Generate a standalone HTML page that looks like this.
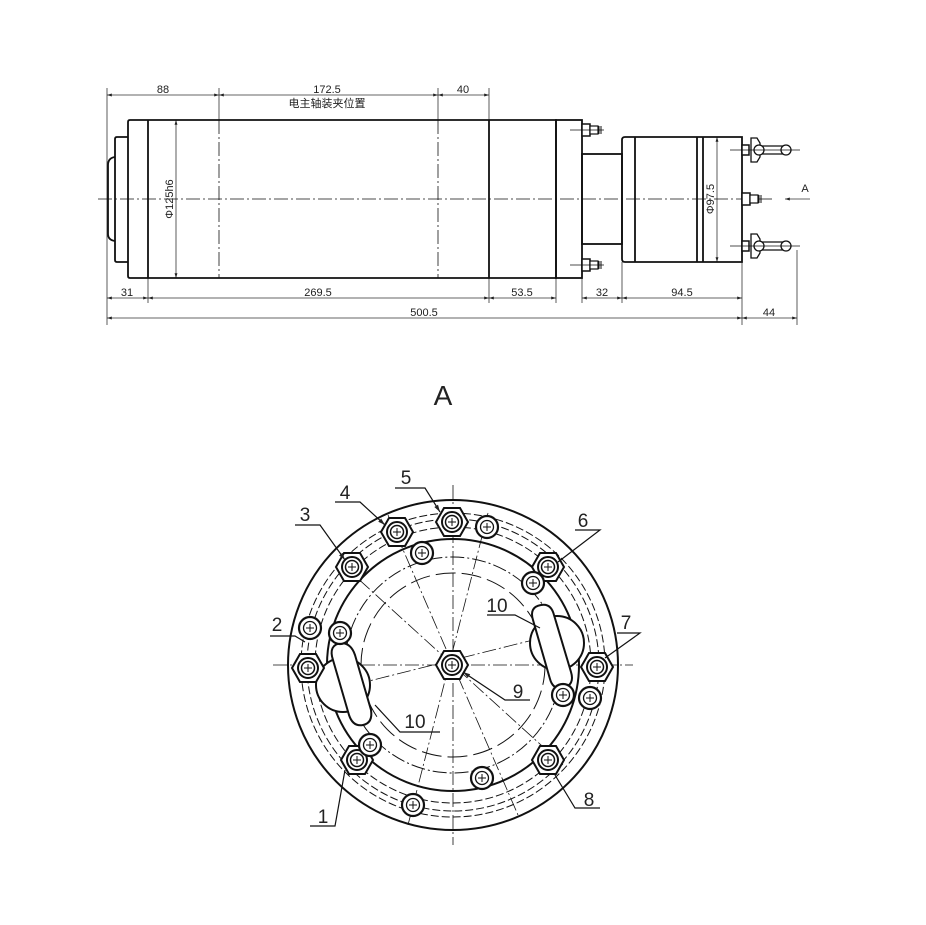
<!DOCTYPE html>
<html><head><meta charset="utf-8"><style>
html,body{margin:0;padding:0;background:#fff}
svg{display:block}
text{font-family:"Liberation Sans","Noto Sans CJK SC",sans-serif;fill:#222}
</style></head><body>
<svg width="926" height="925" viewBox="0 0 926 925" xmlns="http://www.w3.org/2000/svg">
<defs>
<marker id="ar" viewBox="0 0 10 10" refX="10" refY="5" markerWidth="8" markerHeight="6" orient="auto-start-reverse"><path d="M0,2 L10,5 L0,8z" fill="#222"/></marker>
<g id="hex"><polygon points="-16,0 -8,-14 8,-14 16,0 8,14 -8,14" fill="#fff" stroke="#111" stroke-width="2"/><circle r="10" fill="none" stroke="#111" stroke-width="2"/><circle r="6.5" fill="none" stroke="#111" stroke-width="1.5"/><path d="M-4,0H4M0,-4V4" stroke="#111"/></g>
<g id="sc"><circle r="11" fill="#fff" stroke="#111" stroke-width="2.2"/><circle r="6.5" fill="none" stroke="#111" stroke-width="1.3"/><path d="M-4,0H4M0,-4V4" stroke="#111"/></g>
<g id="fit"><rect x="0" y="-6" width="8" height="12" fill="#fff" stroke="#111" stroke-width="1.5"/><rect x="8" y="-4" width="8" height="8" fill="#fff" stroke="#111" stroke-width="1.2"/><path d="M17,-4V4M19,-4V4" stroke="#111"/></g>
<g id="knob"><rect x="0" y="-5" width="7" height="10" fill="#fff" stroke="#111" stroke-width="1.5"/><path d="M9,-12 L15,-12 L18,-7 L18,7 L15,12 L9,12 L9,-12z" fill="#fff" stroke="#111" stroke-width="1.3"/><circle cx="17" cy="0" r="5" fill="#fff" stroke="#111" stroke-width="1.3"/><path d="M20,-4 H44 M20,4 H44" stroke="#111" stroke-width="1.2"/><circle cx="44" cy="0" r="5" fill="#fff" stroke="#111" stroke-width="1.3"/></g>
</defs>
<g stroke="#111" fill="none">
<g stroke-width="0.8" stroke="#333">
<line x1="107" y1="88" x2="107" y2="325"/><line x1="219" y1="88" x2="219" y2="120"/><line x1="438" y1="88" x2="438" y2="120"/><line x1="489" y1="88" x2="489" y2="120"/>
<line x1="107" y1="95" x2="219" y2="95" marker-start="url(#ar)" marker-end="url(#ar)"/>
<line x1="219" y1="95" x2="438" y2="95" marker-start="url(#ar)" marker-end="url(#ar)"/>
<line x1="438" y1="95" x2="489" y2="95" marker-start="url(#ar)" marker-end="url(#ar)"/>
<line x1="148" y1="278" x2="148" y2="303"/><line x1="489" y1="278" x2="489" y2="303"/><line x1="556" y1="278" x2="556" y2="303"/><line x1="582" y1="278" x2="582" y2="303"/><line x1="622" y1="262" x2="622" y2="303"/><line x1="742" y1="262" x2="742" y2="325"/><line x1="797" y1="250" x2="797" y2="325"/>
<line x1="107" y1="298" x2="148" y2="298" marker-start="url(#ar)" marker-end="url(#ar)"/>
<line x1="148" y1="298" x2="489" y2="298" marker-start="url(#ar)" marker-end="url(#ar)"/>
<line x1="489" y1="298" x2="556" y2="298" marker-start="url(#ar)" marker-end="url(#ar)"/>
<line x1="582" y1="298" x2="622" y2="298" marker-start="url(#ar)" marker-end="url(#ar)"/>
<line x1="622" y1="298" x2="742" y2="298" marker-start="url(#ar)" marker-end="url(#ar)"/>
<line x1="107" y1="318" x2="742" y2="318" marker-start="url(#ar)" marker-end="url(#ar)"/>
<line x1="742" y1="318" x2="797" y2="318" marker-start="url(#ar)" marker-end="url(#ar)"/>
<line x1="176" y1="120" x2="176" y2="278" marker-start="url(#ar)" marker-end="url(#ar)"/>
<line x1="717" y1="137" x2="717" y2="262" marker-start="url(#ar)" marker-end="url(#ar)"/>
<line x1="810" y1="199" x2="785" y2="199" marker-end="url(#ar)"/>
</g>
<g stroke-width="1.8">
<path d="M130,120 H556 V278 H130 Q128,278 128,276 V122 Q128,120 130,120z"/>
<line x1="148" y1="120" x2="148" y2="278"/><line x1="489" y1="120" x2="489" y2="278"/>
<path d="M128,137 H117 Q115,137 115,139 V260 Q115,262 117,262 H128"/>
<path d="M115,157 Q108,158 108,165 V234 Q108,240 115,241"/>
<rect x="556" y="120" width="26" height="158"/>
<rect x="582" y="154" width="40" height="90"/>
<path d="M625,137 H742 V262 H625 Q622,262 622,259 V140 Q622,137 625,137z"/>
<line x1="635" y1="137" x2="635" y2="262"/><line x1="697" y1="137" x2="697" y2="262"/><line x1="703" y1="137" x2="703" y2="262"/>
</g>
<g stroke-width="0.8" stroke-dasharray="14,3,2,3"><line x1="98" y1="199" x2="775" y2="199"/><line x1="219" y1="120" x2="219" y2="278"/><line x1="438" y1="120" x2="438" y2="278"/></g>
<use href="#fit" x="582" y="130"/><use href="#fit" x="582" y="265"/>
<use href="#knob" x="742" y="150"/><use href="#knob" x="742" y="246"/><use href="#fit" x="742" y="199"/>
<g stroke-width="0.8"><line x1="570" y1="130" x2="604" y2="130"/><line x1="570" y1="265" x2="604" y2="265"/><line x1="730" y1="150" x2="800" y2="150"/><line x1="730" y1="246" x2="800" y2="246"/></g>

<g transform="translate(453,665)">
<circle r="165" stroke-width="2"/>
<circle r="126" stroke-width="2"/>
<circle r="138" stroke-width="1" stroke-dasharray="8,3"/>
<circle r="146" stroke-width="1" stroke-dasharray="8,3"/>
<circle r="152" stroke-width="1" stroke-dasharray="8,3"/>
<circle r="108" stroke-width="1" stroke-dasharray="14,3,2,3"/>
<circle r="92" stroke-width="1" stroke-dasharray="20,6"/>
<g stroke-width="0.8" stroke-dasharray="14,3,2,3">
<line x1="-180" y1="0" x2="180" y2="0"/><line x1="0" y1="-180" x2="0" y2="180"/>
<line x1="-65" y1="-150" x2="65" y2="150"/><line x1="35" y1="-152" x2="-45" y2="160"/>
<line x1="-110" y1="-100" x2="110" y2="100"/><line x1="-120" y1="25" x2="120" y2="-35"/>
</g>
<g stroke-width="2" fill="#fff">
<circle cx="-110" cy="20" r="27"/>
<path d="M-120,-5 Q-125,-20 -112,-22 Q-102,-22 -98,-10 L-82,45 Q-80,58 -90,60 Q-100,62 -104,50z"/>
<circle cx="104" cy="-22" r="27"/>
<path d="M80,-45 Q76,-58 88,-60 Q98,-62 101,-50 L118,7 Q122,20 110,23 Q100,25 97,14z"/>
</g>
</g>
<use href="#hex" x="452" y="522"/><use href="#hex" x="397" y="532"/><use href="#hex" x="352" y="567"/>
<use href="#hex" x="308" y="668"/><use href="#hex" x="597" y="667"/><use href="#hex" x="548" y="567"/>
<use href="#hex" x="357" y="760"/><use href="#hex" x="548" y="760"/><use href="#hex" x="452" y="665"/>
<use href="#sc" x="310" y="628"/><use href="#sc" x="340" y="633"/><use href="#sc" x="533" y="583"/>
<use href="#sc" x="590" y="698"/><use href="#sc" x="563" y="695"/><use href="#sc" x="370" y="745"/>
<use href="#sc" x="487" y="527"/><use href="#sc" x="422" y="553"/><use href="#sc" x="482" y="778"/><use href="#sc" x="413" y="805"/>
<g stroke-width="1.2">
<path d="M395,488 H425 L440,512" marker-end="url(#ar)"/>
<path d="M335,502 H360 L385,525" marker-end="url(#ar)"/>
<path d="M295,525 H320 L345,560" marker-end="url(#ar)"/>
<path d="M270,636 H295 L305,642"/>
<path d="M575,530 H600 L558,562"/>
<path d="M617,633 H640 L605,658"/>
<path d="M487,615 H515 L540,628"/>
<path d="M530,700 H505 L463,672" marker-end="url(#ar)"/>
<path d="M440,732 H400 L375,705"/>
<path d="M310,826 H335 L345,770"/>
<path d="M600,808 H575 L555,775"/>
</g>
</g>
<g font-size="11">
<text x="163" y="93" text-anchor="middle">88</text>
<text x="327" y="93" text-anchor="middle">172.5</text>
<text x="463" y="93" text-anchor="middle">40</text>
<text x="327" y="107" text-anchor="middle" font-size="11">电主轴装夹位置</text>
<text x="127" y="296" text-anchor="middle">31</text>
<text x="318" y="296" text-anchor="middle">269.5</text>
<text x="522" y="296" text-anchor="middle">53.5</text>
<text x="602" y="296" text-anchor="middle">32</text>
<text x="682" y="296" text-anchor="middle">94.5</text>
<text x="424" y="316" text-anchor="middle">500.5</text>
<text x="769" y="316" text-anchor="middle">44</text>
<text x="805" y="192" text-anchor="middle">A</text>
<text transform="translate(173,199) rotate(-90)" text-anchor="middle">Φ125h6</text>
<text transform="translate(714,199) rotate(-90)" text-anchor="middle">Φ97.5</text>
</g>
<text x="443" y="405" font-size="28" text-anchor="middle" font-weight="300">A</text>
<g font-size="19">
<text x="406" y="484" text-anchor="middle">5</text>
<text x="345" y="499" text-anchor="middle">4</text>
<text x="305" y="521" text-anchor="middle">3</text>
<text x="277" y="631" text-anchor="middle">2</text>
<text x="583" y="527" text-anchor="middle">6</text>
<text x="626" y="629" text-anchor="middle">7</text>
<text x="497" y="612" text-anchor="middle">10</text>
<text x="518" y="698" text-anchor="middle">9</text>
<text x="415" y="728" text-anchor="middle">10</text>
<text x="323" y="823" text-anchor="middle">1</text>
<text x="589" y="806" text-anchor="middle">8</text>
</g>
</svg>
</body></html>
